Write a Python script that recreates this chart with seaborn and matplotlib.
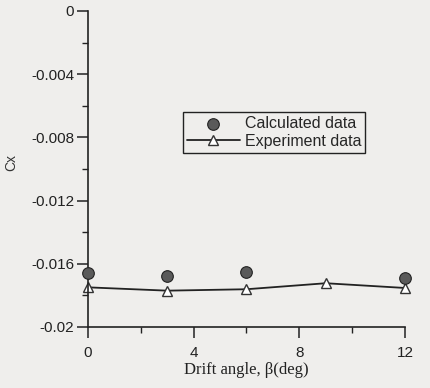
import matplotlib
matplotlib.use("Agg")
import matplotlib.pyplot as plt
import seaborn as sns
import pandas as pd
from matplotlib.ticker import MultipleLocator

calc_angle = [0, 3, 6, 12]
calc_cx = [-0.01657, -0.01678, -0.01653, -0.01689]
exp_angle = [0, 3, 6, 9, 12]
exp_cx = [-0.01749, -0.01770, -0.01761, -0.01723, -0.01753]
y_ticks = [0, -0.004, -0.008, -0.012, -0.016, -0.02]
y_labels = ["0", "-0.004", "-0.008", "-0.012", "-0.016", "-0.02"]
x_ticks = [0, 4, 8, 12]

sns.set_theme(style="white")
plt.rcParams['font.family'] = ['Liberation Sans', 'DejaVu Sans']
bg = "#efeeec"

fig = plt.figure(figsize=(4.3, 3.88), dpi=100, facecolor=bg)
ax = fig.add_axes([88/430, 61/388, 317/430, 316/388])
ax.set_facecolor(bg)

df_c = pd.DataFrame({"angle": calc_angle, "cx": calc_cx})
df_e = pd.DataFrame({"angle": exp_angle, "cx": exp_cx})

sns.lineplot(data=df_e, x="angle", y="cx", ax=ax, color="#222222", lw=1.3,
             marker="^", markersize=7, markerfacecolor="white",
             markeredgecolor="#333333", markeredgewidth=1.0,
             label="Experiment data", clip_on=False)
sns.scatterplot(data=df_c, x="angle", y="cx", ax=ax, s=70, color="#5a5a5a",
                edgecolor="#222222", linewidth=0.8, label="Calculated data",
                clip_on=False, zorder=5)

ax.set_xlim(0, 12)
ax.set_ylim(-0.02, 0)
ax.set_xticks(x_ticks)
ax.set_xticklabels([str(v) for v in x_ticks])
ax.set_yticks(y_ticks)
ax.set_yticklabels(y_labels)
ax.xaxis.set_minor_locator(MultipleLocator(2))
ax.yaxis.set_minor_locator(MultipleLocator(0.002))
ax.tick_params(axis="x", which="major", direction="out", length=8, width=1.1,
               labelsize=11, colors="#222222", bottom=True, pad=6)
ax.tick_params(axis="y", which="major", direction="out", length=8, width=1.1,
               labelsize=11, colors="#222222", left=True, pad=2)
ax.tick_params(axis="both", which="minor", direction="out", length=4, width=1.0,
               colors="#222222", left=True, bottom=True)
for s in ["top", "right"]:
    ax.spines[s].set_visible(False)
for s in ["left", "bottom"]:
    ax.spines[s].set_color("#222222")
    ax.spines[s].set_linewidth(1.2)

ax.set_ylabel("Cx", fontsize=10, color="#333333", labelpad=10)
ax.yaxis.set_label_coords(-0.22, 0.52)
ax.set_xlabel("Drift angle, β(deg)", fontsize=12, color="#222222",
              family=["Liberation Serif", "DejaVu Serif"], labelpad=1)

h, l = ax.get_legend_handles_labels()
order = [l.index("Calculated data"), l.index("Experiment data")]
leg = ax.legend([h[i] for i in order], [l[i] for i in order],
                loc="upper left", bbox_to_anchor=(0.30, 0.68), frameon=True,
                fancybox=False, edgecolor="#222222", facecolor=bg, framealpha=1,
                fontsize=11.5, handlelength=3.3, borderpad=0.25, labelspacing=0.15,
                handletextpad=0.3, borderaxespad=0)
leg.get_frame().set_linewidth(1.0)

fig.savefig("out.png", dpi=100, facecolor=bg)
